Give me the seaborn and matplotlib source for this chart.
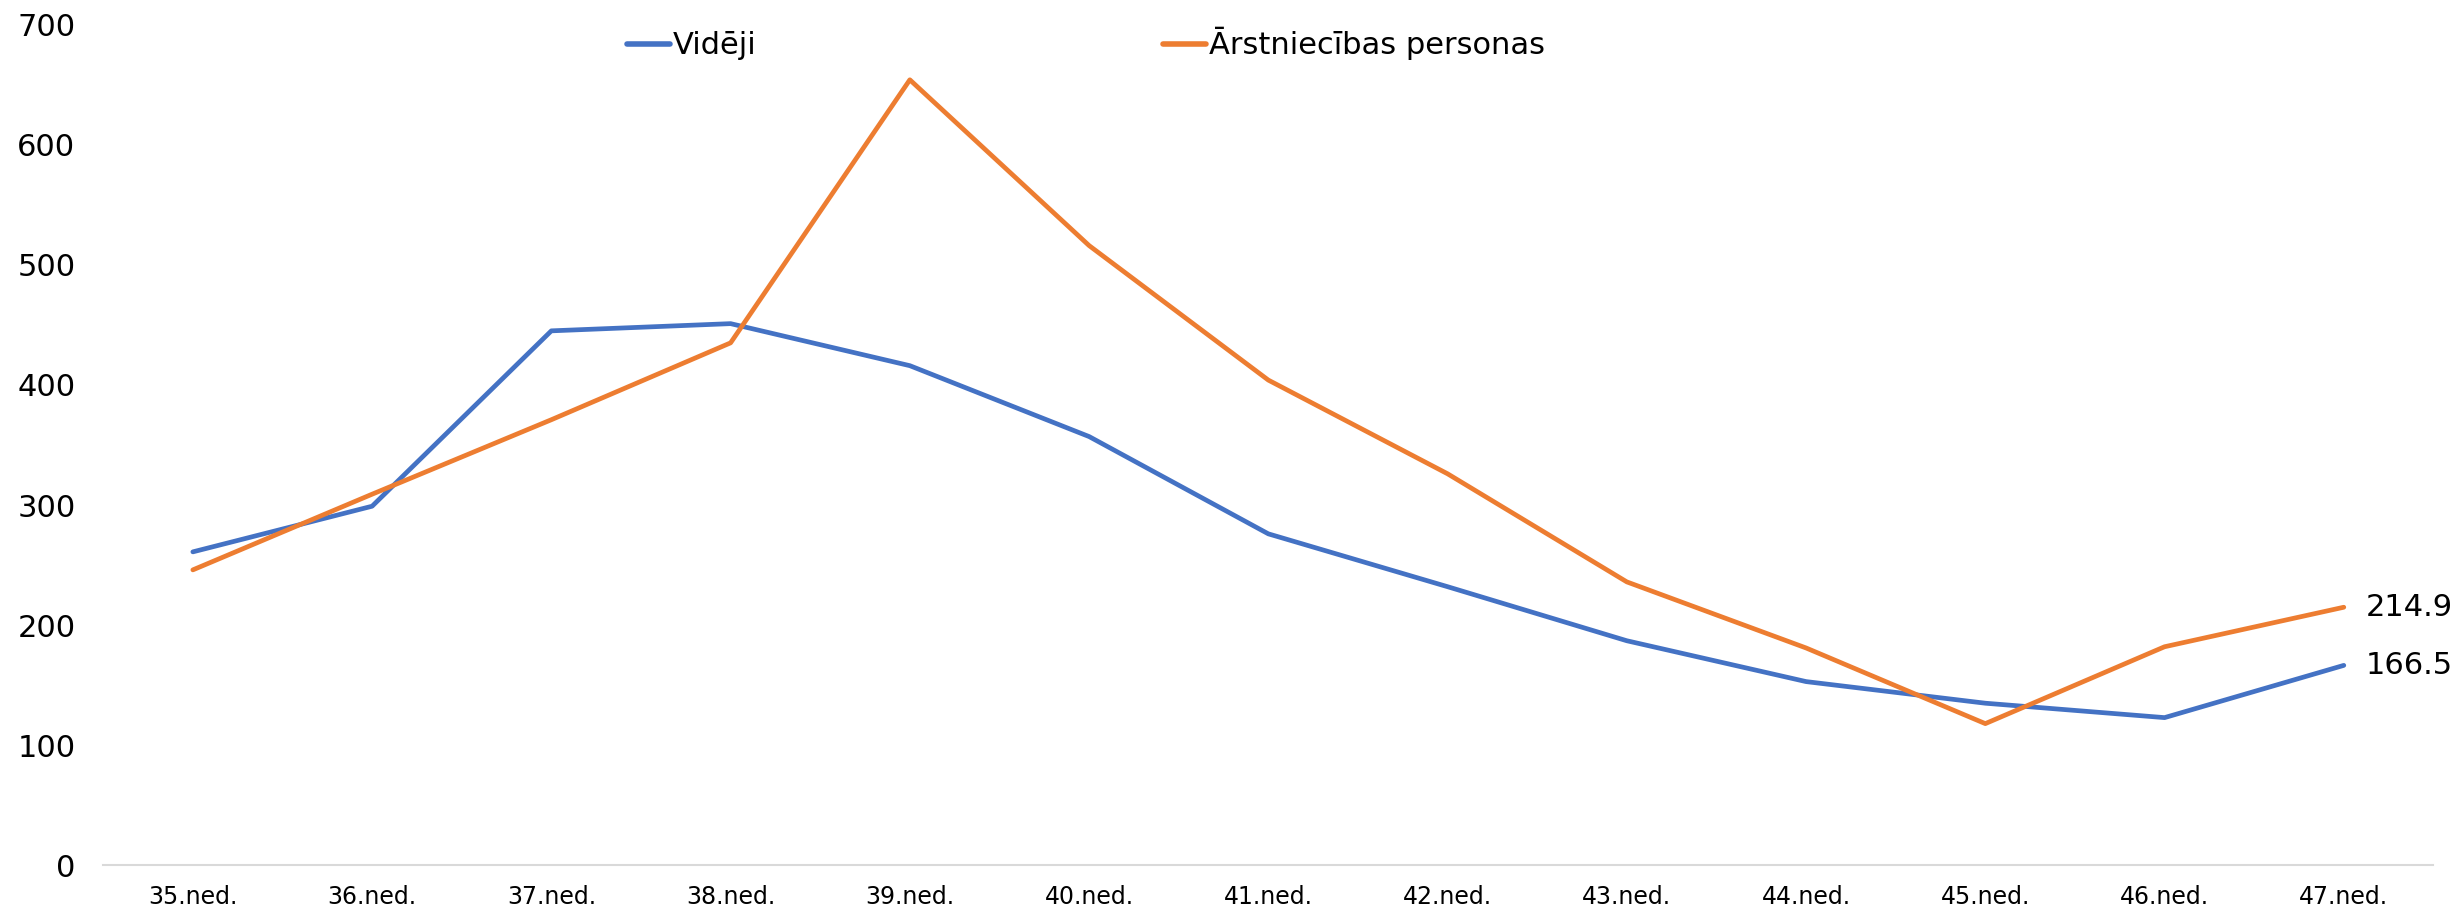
import pandas as pd
import matplotlib.pyplot as plt
import seaborn as sns

# dati
weeks = ["35.ned.", "36.ned.", "37.ned.", "38.ned.", "39.ned.", "40.ned.", "41.ned.",
         "42.ned.", "43.ned.", "44.ned.", "45.ned.", "46.ned.", "47.ned."]
videji = [261, 299, 445, 451, 416, 357, 276, 232, 187, 153, 135, 123, 166.5]
arstn = [246, 309, 371, 435, 654, 516, 404, 326, 236, 181, 118, 182, 214.9]
series_names = ["Vidēji", "Ārstniecības personas"]

df = pd.DataFrame({
    "week": weeks * 2,
    "value": videji + arstn,
    "series": [series_names[0]] * len(weeks) + [series_names[1]] * len(weeks),
})

sns.set_theme(style="white")
plt.rcParams["font.family"] = ["DejaVu Sans"]
plt.rcParams["text.color"] = "black"
plt.rcParams["xtick.color"] = "black"
plt.rcParams["ytick.color"] = "black"

fig = plt.figure(figsize=(24.58, 9.09), dpi=100)
ax = fig.add_axes([0.042, 0.048, 0.948, 0.925])

sns.lineplot(data=df, x="week", y="value", hue="series", sort=False,
             palette=["#4472C4", "#ED7D31"], linewidth=3.4, ax=ax, legend=False)

ax.set_ylim(0, 700)
ax.set_xlim(-0.5, len(weeks) - 0.5)
ax.set_yticks(range(0, 701, 100))
ax.set_xlabel("")
ax.set_ylabel("")
ax.tick_params(axis="y", labelsize=22, length=0, pad=20, labelcolor="black")
ax.tick_params(axis="x", labelsize=17, length=0, pad=14, labelcolor="black")
for s in ["top", "right", "left"]:
    ax.spines[s].set_visible(False)
ax.spines["bottom"].set_color("#D9D9D9")
ax.spines["bottom"].set_linewidth(1.5)

# vērtības pēdējā punktā
ax.text(len(weeks) - 1 + 0.12, arstn[-1], f"{arstn[-1]:.1f}", fontsize=22,
        va="center", ha="left", color="black")
ax.text(len(weeks) - 1 + 0.12, videji[-1], f"{videji[-1]:.1f}", fontsize=22,
        va="center", ha="left", color="black")

handles = [plt.Line2D([], [], color="#4472C4", lw=4),
           plt.Line2D([], [], color="#ED7D31", lw=4)]
fig.legend(handles, series_names, loc="center left", bbox_to_anchor=(0.244, 0.952),
           ncol=2, frameon=False, fontsize=22, handlelength=1.4, handletextpad=0.1,
           columnspacing=13.3, labelcolor="black")

plt.savefig("out.png", dpi=100)
